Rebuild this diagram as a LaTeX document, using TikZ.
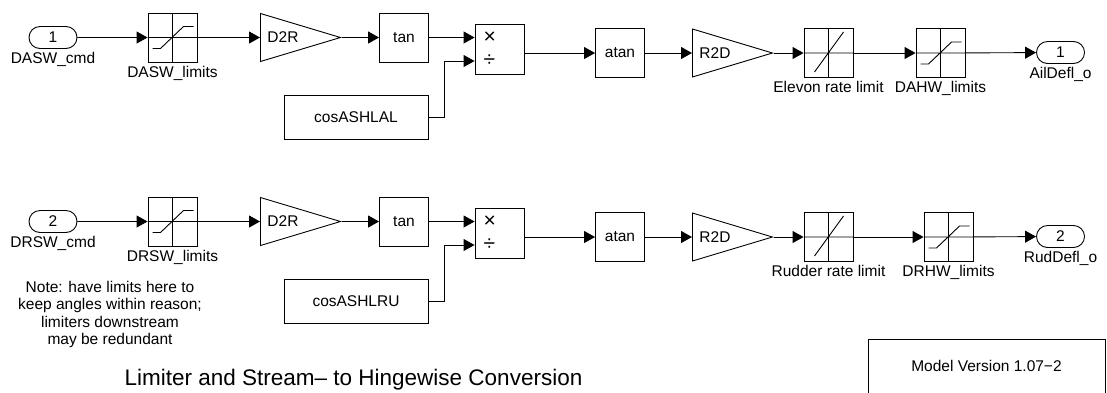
\documentclass[tikz,border=0pt]{standalone}
\usepackage{fontspec}
\setmainfont{Liberation Sans}
\usetikzlibrary{shapes.geometric,shapes.misc,arrows.meta}

\begin{document}
\begin{tikzpicture}[x=1pt, y=-1pt, line width=0.9pt,
    font=\fontsize{15.5}{17.5}\selectfont,
    blk/.style={draw, rectangle, minimum width=49pt, minimum height=49pt, inner sep=0pt},
    port/.style={draw, rounded rectangle, minimum width=48pt, minimum height=22pt, inner sep=0pt},
    gain/.style={draw, isosceles triangle, isosceles triangle stretches, shape border rotate=0,
        minimum width=48pt, minimum height=80pt, inner sep=0pt, anchor=lower side},
    satblk/.style={blk, path picture={
        \draw [shift={(path picture bounding box.center)}] (-25,0) -- (25,0) (0,-25) -- (0,25)
            (-20,11) -- (-12,11) -- (11,-11) -- (21,-11);}},
    rateblk/.style={blk, path picture={
        \draw [shift={(path picture bounding box.center)}] (-25,0) -- (25,0) (0,-25) -- (0,25)
            (-14,19) -- (15,-21);}},
    prodblk/.style={blk, minimum height=50pt, align=left, text width=32pt,
        font=\fontsize{21}{18}\selectfont},
    wire/.style={-{Triangle[length=11pt, width=12pt]}}]
    \useasboundingbox (0,0) rectangle (1107,392);

    \node (dasw_in) at (53, 37.5) [port, label=below:DASW\_cmd] {1};
    \node (dasw_lim) at (172.5, 37.5) [satblk, label=below:DASW\_limits] {};
    \node (d2r_a) at (260, 37.5) [gain, label={[anchor=west, inner sep=0pt, xshift=7pt]west:D2R}] {};
    \node (tan_a) at (404, 37.5) [blk] {tan};
    \node (cos_a) at (356, 117) [blk, minimum width=144pt, minimum height=44pt] {cosASHLAL};
    \node (prod_a) at (499.5, 49.5) [prodblk] {×\\[5pt]÷};
    \node (atan_a) at (620, 53) [blk] {atan};
    \node (r2d_a) at (692, 53) [gain, label={[anchor=west, inner sep=0pt, xshift=7pt]west:R2D}] {};
    \node (rate_a) at (828.5, 53) [rateblk, label=below:Elevon rate limit] {};
    \node (dahw_lim) at (940.5, 53) [satblk, label=below:DAHW\_limits] {};
    \node (ail_out) at (1060.5, 52.5) [port, label=below:AilDefl\_o] {1};

    \node (drsw_in) at (53, 221.5) [port, label=below:DRSW\_cmd] {2};
    \node (drsw_lim) at (172.5, 221.5) [satblk, label=below:DRSW\_limits] {};
    \node (d2r_b) at (260, 221.5) [gain, label={[anchor=west, inner sep=0pt, xshift=7pt]west:D2R}] {};
    \node (tan_b) at (404, 221.5) [blk] {tan};
    \node (cos_b) at (356, 301) [blk, minimum width=144pt, minimum height=44pt] {cosASHLRU};
    \node (prod_b) at (499.5, 233.5) [prodblk] {×\\[5pt]÷};
    \node (atan_b) at (620, 237) [blk] {atan};
    \node (r2d_b) at (692, 237) [gain, label={[anchor=west, inner sep=0pt, xshift=7pt]west:R2D}] {};
    \node (rate_b) at (828.5, 237) [rateblk, label=below:Rudder rate limit] {};
    \node (drhw_lim) at (948.5, 237) [satblk, label=below:DRHW\_limits] {};
    \node (rud_out) at (1060.5, 236.5) [port, label=below:RudDefl\_o] {2};

    \node (note) at (110, 314.5) [align=center] {Note: have limits here to\\keep angles within reason;\\limiters downstream\\may be redundant};
    \node (title) at (353.5, 380) [font=\fontsize{22.5}{26}\selectfont] {Limiter and Stream– to Hingewise Conversion};
    \node (version) at (986.5, 366) [draw, minimum width=237pt, minimum height=54pt] {Model Version 1.07−2};

    \draw [wire] (dasw_in) edge (dasw_lim);
    \draw [wire] (dasw_lim) edge (d2r_a);
    \draw [wire] (d2r_a) edge (tan_a);
    \draw [wire] (tan_a) edge (tan_a -| prod_a.west);
    \draw [wire] (cos_a.east) -| ([xshift=-30pt, yshift=-11.5pt]prod_a.west) -- ([yshift=-11.5pt]prod_a.west);
    \draw [wire] (atan_a -| prod_a.east) -- (atan_a);
    \draw [wire] (atan_a) edge (r2d_a);
    \draw [wire] (r2d_a) edge (rate_a);
    \draw [wire] (rate_a) edge (dahw_lim);
    \draw [wire] (dahw_lim) edge (ail_out);

    \draw [wire] (drsw_in) edge (drsw_lim);
    \draw [wire] (drsw_lim) edge (d2r_b);
    \draw [wire] (d2r_b) edge (tan_b);
    \draw [wire] (tan_b) edge (tan_b -| prod_b.west);
    \draw [wire] (cos_b.east) -| ([xshift=-30pt, yshift=-11.5pt]prod_b.west) -- ([yshift=-11.5pt]prod_b.west);
    \draw [wire] (atan_b -| prod_b.east) -- (atan_b);
    \draw [wire] (atan_b) edge (r2d_b);
    \draw [wire] (r2d_b) edge (rate_b);
    \draw [wire] (rate_b) edge (drhw_lim);
    \draw [wire] (drhw_lim) edge (rud_out);
\end{tikzpicture}
\end{document}
